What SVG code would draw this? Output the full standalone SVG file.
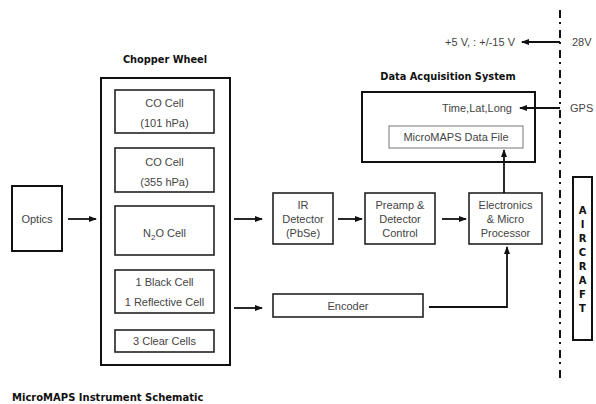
<svg xmlns="http://www.w3.org/2000/svg" width="596" height="404" viewBox="0 0 596 404">
<style>
.b{fill:#fff;stroke:#111;stroke-width:2}
.c{fill:#fff;stroke:#222;stroke-width:1.6}
.t{font-family:"Liberation Sans",Arial,sans-serif;font-size:11px;fill:#444;text-anchor:middle}
.h{font-family:"DejaVu Sans",Verdana,sans-serif;font-weight:bold;font-size:9.8px;fill:#111;text-anchor:middle}
.s{text-anchor:start}
.e{text-anchor:end}
.w{fill:none;stroke:#111;stroke-width:1.8}
.a{marker-end:url(#ah)}
</style>
<defs>
<marker id="ah" markerWidth="8" markerHeight="6" refX="7" refY="3" orient="auto" markerUnits="userSpaceOnUse">
<path d="M0,0 L8,3 L0,6 Z" fill="#111"/>
</marker>
</defs>
<rect width="596" height="404" fill="#fff"/>

<g id="optics">
<rect class="b" x="12" y="186" width="50" height="65"/>
<text class="t" x="37" y="223">Optics</text>
</g>

<g id="chopper-wheel">
<text class="h" x="165" y="63">Chopper Wheel</text>
<rect class="b" x="101" y="78" width="129" height="287"/>
</g>
<g id="co-cell-101">
<rect class="c" x="115" y="90" width="99" height="43"/>
<text class="t" x="164.500" y="107">CO Cell</text>
<text class="t" x="164.500" y="127">(101 hPa)</text>
</g>
<g id="co-cell-355">
<rect class="c" x="115" y="148" width="99" height="44"/>
<text class="t" x="164.500" y="166">CO Cell</text>
<text class="t" x="164.500" y="186">(355 hPa)</text>
</g>
<g id="n2o-cell">
<rect class="c" x="115" y="206" width="99" height="49"/>
<text class="t" x="164.500" y="237">N<tspan font-size="8" dy="3">2</tspan><tspan dy="-3">O Cell</tspan></text>
</g>
<g id="black-reflective-cell">
<rect class="c" x="115" y="270" width="99" height="43"/>
<text class="t" x="164.500" y="286">1 Black Cell</text>
<text class="t" x="164.500" y="306">1 Reflective Cell</text>
</g>
<g id="clear-cells">
<rect class="c" x="115" y="330" width="99" height="22"/>
<text class="t" x="164.500" y="345">3 Clear Cells</text>
</g>

<g id="ir-detector">
<rect class="c" x="273" y="193" width="60" height="51"/>
<text class="t" x="303" y="209">IR</text>
<text class="t" x="303" y="223">Detector</text>
<text class="t" x="303" y="237">(PbSe)</text>
</g>
<g id="preamp">
<rect class="c" x="365" y="193" width="70" height="51"/>
<text class="t" x="400" y="209">Preamp &amp;</text>
<text class="t" x="400" y="223">Detector</text>
<text class="t" x="400" y="237">Control</text>
</g>
<g id="electronics">
<rect class="c" x="469" y="193" width="73" height="51"/>
<text class="t" x="505.500" y="209">Electronics</text>
<text class="t" x="505.500" y="223">&amp; Micro</text>
<text class="t" x="505.500" y="237">Processor</text>
</g>
<g id="encoder">
<rect class="c" x="273" y="294" width="150" height="23"/>
<text class="t" x="348" y="310">Encoder</text>
</g>

<g id="data-acquisition-system">
<text class="h" x="448" y="80">Data Acquisition System</text>
<rect class="b" x="362" y="92" width="173" height="70" stroke-width="2.4"/>
<text class="t e" x="512" y="112">Time,Lat,Long</text>
</g>
<g id="data-file">
<rect x="389" y="126" width="134" height="22" fill="#fff" stroke="#777" stroke-width="1"/>
<text class="t" x="456" y="141">MicroMAPS Data File</text>
</g>

<g id="power">
<text class="t e" x="515" y="46">+5 V, : +/-15 V</text>
<text class="t s" x="572" y="46">28V</text>
</g>
<g id="gps">
<text class="t s" x="570" y="112">GPS</text>
</g>

<g id="aircraft">
<rect class="b" x="573" y="177" width="19" height="163"/>
<g font-family="'DejaVu Sans',Verdana,sans-serif" font-weight="bold" font-size="10" fill="#111" text-anchor="middle">
<text x="582.500" y="214">A</text>
<text x="582.500" y="228">I</text>
<text x="582.500" y="242">R</text>
<text x="582.500" y="256">C</text>
<text x="582.500" y="270">R</text>
<text x="582.500" y="284">A</text>
<text x="582.500" y="298">F</text>
<text x="582.500" y="312">T</text>
</g>
</g>

<g id="title">
<text class="h s" x="12" y="401" style="font-size:10px">MicroMAPS Instrument Schematic</text>
</g>

<g id="connectors">
<line class="w a" x1="68" y1="219" x2="96" y2="219"/>
<line class="w a" x1="234" y1="219" x2="262" y2="219"/>
<line class="w a" x1="234" y1="308" x2="262" y2="308"/>
<line class="w a" x1="338" y1="219" x2="362" y2="219"/>
<line class="w a" x1="442" y1="219" x2="466" y2="219"/>
<polyline class="w a" points="429,307 507,307 507,247"/>
<line class="w a" x1="504" y1="193" x2="504" y2="150"/>
<line class="w a" x1="560" y1="42" x2="522" y2="42"/>
<line class="w a" x1="560" y1="108" x2="520" y2="108"/>
<line x1="560" y1="10" x2="560" y2="378" stroke="#111" stroke-width="2" stroke-dasharray="8,4,2,6"/>
</g>
</svg>
